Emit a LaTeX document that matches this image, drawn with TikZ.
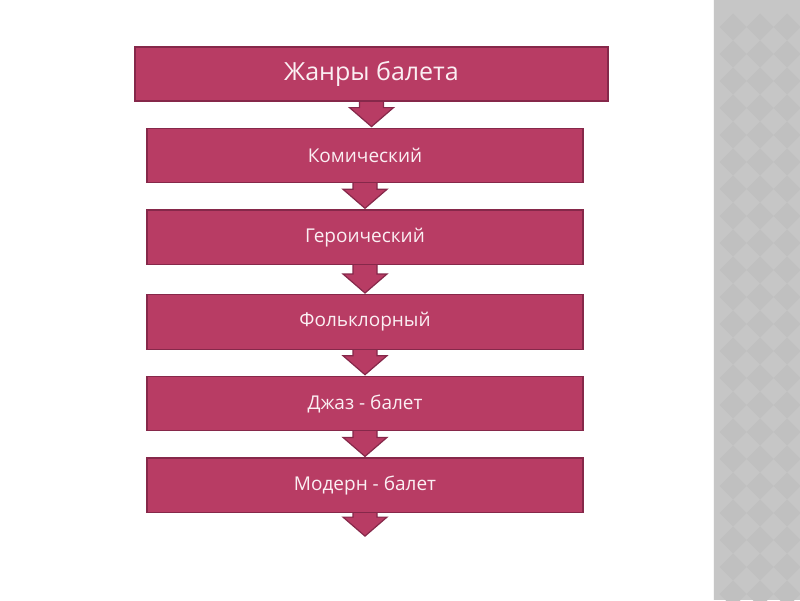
\documentclass[tikz,border=0pt]{standalone}
\usepackage{fontspec}
\setmainfont{Open Sans}
\usetikzlibrary{positioning,calc,backgrounds}
\definecolor{Berry}{HTML}{B83C64}
\definecolor{BerryDark}{HTML}{86284A}
\definecolor{BerryText}{HTML}{FBEFF3}
\definecolor{StripGray}{HTML}{C6C6C6}
\definecolor{StripDark}{HTML}{C0C0C0}

% block arrow from a box down to a tip point, drawn behind the boxes
\newcommand{\genrearrow}[2]{%
  \coordinate (tip) at (#1.south |- #2);
  \filldraw[blockarr]
    ($(#1.south)+(-12pt,10pt)$) -- ($(tip)+(-12pt,20pt)$) -- ($(tip)+(-22pt,20pt)$)
    -- ($(tip)+(0pt,1pt)$) -- ($(tip)+(22pt,20pt)$) -- ($(tip)+(12pt,20pt)$)
    -- ($(#1.south)+(12pt,10pt)$) -- cycle;}

\begin{document}
\begin{tikzpicture}[
  x=1pt,y=-1pt,
  node distance=26pt,
  every node/.style={text=BerryText},
  headbox/.style={draw=BerryDark,fill=Berry,line width=1.2pt,minimum width=473pt,minimum height=54pt,font=\fontsize{25}{28}\selectfont},
  genrebox/.style={draw=BerryDark,fill=Berry,line width=1.2pt,minimum width=436pt,minimum height=54.5pt,font=\fontsize{19}{22}\selectfont},
  blockarr/.style={fill=Berry,draw=BerryDark,line width=1.2pt,line join=miter}
]
\useasboundingbox (0,0) rectangle (800,600);
\node[headbox] (genres) at (371.5,74) {Жанры балета};
\node[genrebox,below=of genres,xshift=-6.5pt] (comic) {Комический};
\node[genrebox,below=of comic] (heroic) {Героический};
\node[genrebox,below=29pt of heroic] (folk) {Фольклорный};
\node[genrebox,below=of folk] (jazz) {Джаз - балет};
\node[genrebox,below=of jazz] (modern) {Модерн - балет};
\coordinate[below=24pt of modern] (last);
\begin{scope}[on background layer]
  \begin{scope}
    \clip (713,0) rectangle (800,600);
    \fill[StripGray] (713,0) rectangle (800,600);
    \foreach \i in {0,...,3}
      \foreach \j in {0,...,22}
        \fill[StripDark] (733+27*\i,13.5+27*\j) -- ++(13.5,13.5) -- ++(-13.5,13.5) -- ++(-13.5,-13.5) -- cycle;
  \end{scope}
  \draw[white!85!StripGray,line width=1pt] (713.5,0) -- (713.5,600);
  \genrearrow{genres}{comic.north}
  \genrearrow{comic}{heroic.north}
  \genrearrow{heroic}{folk.north}
  \genrearrow{folk}{jazz.north}
  \genrearrow{jazz}{modern.north}
  \genrearrow{modern}{last}
\end{scope}
\end{tikzpicture}
\end{document}
